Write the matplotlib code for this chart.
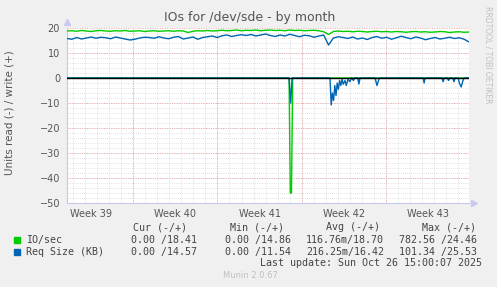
import numpy as np
import matplotlib
matplotlib.use("Agg")
import matplotlib.pyplot as plt

# ---- data ---------------------------------------------------------------
SPAN_DAYS = 33.4          # visible time range in days
WEEK_STARTS = [5.5, 12.5, 19.5, 26.5]
WEEK_LABELS = ["Week 39", "Week 40", "Week 41", "Week 42", "Week 43"]
WEEK_LABEL_POS = [2.0, 9.0, 16.0, 23.0, 30.0]

# write side (+), sampled evenly over the span
io_write = [18.8, 18.9, 18.7, 19.0, 18.8, 18.6, 18.9, 19.0, 18.8, 18.7,
            18.9, 18.8, 19.0, 18.7, 18.8, 18.9, 18.6, 18.8, 18.9, 18.7,
            18.8, 18.9, 18.7, 18.9, 18.8, 18.2, 18.7, 18.9, 18.8, 19.0,
            18.8, 18.9, 19.1, 18.9, 19.0, 19.2, 18.9, 19.1, 19.0, 19.2,
            18.9, 19.1, 19.2, 19.0, 19.1, 18.9, 19.2, 19.0, 19.1, 18.9,
            19.0, 19.1, 18.9, 18.5, 17.4, 18.6, 18.8, 18.6, 18.7, 18.5,
            18.7, 18.6, 18.4, 18.6, 18.7, 18.5, 18.6, 18.4, 18.6, 18.5,
            18.3, 18.5, 18.6, 18.4, 18.5, 18.3, 18.4, 18.6, 18.5, 18.2,
            18.4, 18.5, 18.3, 18.4]
req_write = [15.8, 15.5, 16.2, 15.6, 16.0, 16.4, 15.9, 16.3, 16.1, 15.7,
             16.4, 16.0, 15.6, 15.2, 15.5, 16.0, 16.3, 16.2, 15.9, 16.5,
             16.0, 15.7, 16.3, 16.6, 15.6, 16.0, 16.4, 15.5, 16.2, 16.5,
             16.8, 16.2, 16.9, 17.2, 16.6, 17.0, 17.3, 17.0, 17.4, 16.8,
             17.2, 17.6, 17.0, 16.6, 17.2, 16.8, 17.5, 17.0, 16.5, 17.1,
             16.9, 16.3, 16.8, 17.2, 13.2, 16.0, 16.5, 16.2, 15.8, 16.4,
             15.6, 16.0, 15.4, 16.2, 16.6, 15.9, 16.3, 15.5, 16.1, 16.7,
             16.2, 15.7, 16.4, 16.0, 15.3, 15.8, 16.2, 15.6, 15.9, 16.3,
             15.8, 16.1, 15.5, 14.4]

# read side (-), mostly zero: breakpoints (day, value)
io_read_days = [0.0, 18.45, 18.55, 18.65, 18.75, 33.4]
io_read_vals = [0.0, 0.0, -46.0, -46.0, 0.0, 0.0]
req_read_days = [0.0, 18.45, 18.58, 18.7, 21.85, 21.95, 22.05, 22.15, 22.25,
                 22.35, 22.45, 22.55, 22.65, 22.75, 22.85, 22.95, 23.1, 23.2,
                 23.35, 23.5, 23.65, 23.8, 23.9, 24.15, 24.25, 24.35, 25.6,
                 25.75, 25.85, 25.95, 29.6, 29.67, 29.75, 31.15, 31.25, 31.35,
                 31.6, 31.7, 31.8, 32.05, 32.15, 32.25, 32.5, 32.6, 32.75,
                 32.9, 33.0, 33.4]
req_read_vals = [0.0, 0.0, -10.0, 0.0, 0.0, -10.8, -6.0, -9.0, -3.0,
                 -7.0, -2.0, -4.5, -1.0, -3.0, -0.5, -2.5, -1.0, -3.0,
                 -0.5, -1.5, 0.0, -1.0, 0.0, 0.0, -2.4, 0.0, 0.0,
                 -3.0, -1.5, 0.0, 0.0, -2.0, 0.0, 0.0, -1.5, 0.0,
                 0.0, -1.0, 0.0, 0.0, -1.5, 0.0, 0.0, -2.0, -3.6,
                 -1.0, 0.0, 0.0]

legend_names = ["IO/sec", "Req Size (KB)"]
legend_cur = ["0.00 /18.41", "0.00 /14.57"]
legend_min = ["0.00 /14.86", "0.00 /11.54"]
legend_avg = ["116.76m/18.70", "216.25m/16.42"]
legend_max = ["782.56 /24.46", "101.34 /25.53"]
colors = ["#00cc00", "#0066b3"]

W, H = 497, 287
fig = plt.figure(figsize=(W / 100, H / 100), dpi=100, facecolor="#f0f0f0")
L, R, T, B = 67, 469, 28, 203
ax = fig.add_axes([L / W, 1 - B / H, (R - L) / W, (B - T) / H], facecolor="white")

t = np.linspace(0, SPAN_DAYS, len(io_write))
ax.plot(io_read_days, io_read_vals, color=colors[0], lw=1.0, zorder=3)
ax.plot(t, io_write, color=colors[0], lw=1.0, zorder=3)
ax.plot(req_read_days, req_read_vals, color=colors[1], lw=1.0, zorder=4)
ax.plot(t, req_write, color=colors[1], lw=1.0, zorder=4)
ax.axhline(0, color="black", lw=1.0, zorder=5)

ax.set_xlim(0, SPAN_DAYS)
ax.set_ylim(-50, 20)

# grid like rrdtool: minor grey dotted, major red dotted
for d in np.arange(0.5, SPAN_DAYS, 1.0):
    ax.axvline(d, color="#d8d8d8", lw=0.6, ls=(0, (1, 1.5)), zorder=1)
for y in range(-48, 20, 2):
    ax.axhline(y, color="#d8d8d8", lw=0.6, ls=(0, (1, 1.5)), zorder=1)
for d in WEEK_STARTS:
    ax.axvline(d, color="#e8a8a8", lw=0.7, ls=(0, (1, 1.5)), zorder=2)
for y in range(-50, 21, 10):
    ax.axhline(y, color="#e8a8a8", lw=0.7, ls=(0, (1, 1.5)), zorder=2)

ax.set_yticks(range(-50, 21, 10))
ax.set_xticks(WEEK_LABEL_POS)
ax.set_xticklabels(WEEK_LABELS)
ax.tick_params(axis="both", length=0, labelsize=7, colors="#555555", pad=4)
ax.tick_params(axis="y", pad=5)
for s in ax.spines.values():
    s.set_visible(False)
ax.plot([0, 0], [0, 1], transform=ax.transAxes, color="#c8c8f0", lw=0.8, clip_on=False)
ax.plot([0, 1], [0, 0], transform=ax.transAxes, color="#c8c8f0", lw=0.8, clip_on=False)
ax.plot([0], [1.035], marker="^", ms=5, color="#c8c8f0", transform=ax.transAxes, clip_on=False)
ax.plot([1.012], [0], marker=">", ms=5, color="#c8c8f0", transform=ax.transAxes, clip_on=False)

fig.text(10 / W, 1 - 113 / H, "Units read (-) / write (+)", rotation=90, ha="center",
         va="center", fontsize=7.5, color="#555555")
fig.text(250 / W, 1 - 18 / H, "IOs for /dev/sde - by month", ha="center", va="center",
         fontsize=9, color="#555555")
fig.text(488 / W, 1 - 55 / H, "RRDTOOL / TOBI OETIKER", rotation=270, ha="center",
         va="center", fontsize=5.5, color="#c0c0c0")

mono = dict(family="DejaVu Sans Mono", fontsize=7.2, color="#444444", va="center")
head_y = 227
fig.text(187 / W, 1 - head_y / H, "Cur (-/+)", ha="right", **mono)
fig.text(284 / W, 1 - head_y / H, "Min (-/+)", ha="right", **mono)
fig.text(380 / W, 1 - head_y / H, "Avg (-/+)", ha="right", **mono)
fig.text(476 / W, 1 - head_y / H, "Max (-/+)", ha="right", **mono)
for i, y in enumerate([240, 252]):
    fig.patches.append(plt.Rectangle((14 / W, 1 - (y + 3) / H), 6 / W, 6 / H,
                                     transform=fig.transFigure, color=colors[i]))
    fig.text(26 / W, 1 - y / H, legend_names[i], ha="left", **mono)
    fig.text(197 / W, 1 - y / H, legend_cur[i], ha="right", **mono)
    fig.text(291 / W, 1 - y / H, legend_min[i], ha="right", **mono)
    fig.text(384 / W, 1 - y / H, legend_avg[i], ha="right", **mono)
    fig.text(477 / W, 1 - y / H, legend_max[i], ha="right", **mono)
fig.text(482 / W, 1 - 263 / H, "Last update: Sun Oct 26 15:00:07 2025", ha="right", **mono)
fig.text(250 / W, 1 - 276 / H, "Munin 2.0.67", ha="center", va="center",
         fontsize=6, color="#c0c0c0")

fig.savefig("out.png", dpi=100, facecolor=fig.get_facecolor())
